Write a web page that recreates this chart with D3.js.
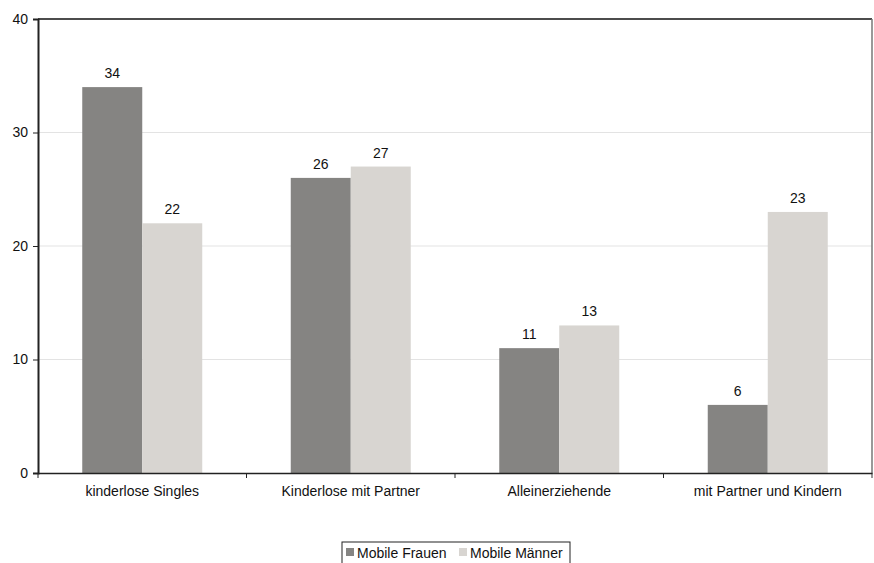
<!DOCTYPE html>
<html>
<head>
<meta charset="utf-8">
<script src="https://cdn.jsdelivr.net/npm/d3@7"></script>
<style>
  body { margin: 0; background: #fff; overflow: hidden; }
  svg { display: block; }
  svg text { font-family: "Liberation Sans", Arial, sans-serif; font-size: 14px; fill: #111; }
</style>
</head>
<body>
<svg id="chart" width="874" height="563"></svg>
<script>
// Data
const categories = ["kinderlose Singles", "Kinderlose mit Partner", "Alleinerziehende", "mit Partner und Kindern"];
const seriesNames = ["Mobile Frauen", "Mobile Männer"];
const frauen = [34, 26, 11, 6];
const maenner = [22, 27, 13, 23];
const yTicks = [0, 10, 20, 30, 40];
const colors = ["#858482", "#d8d5d1"];

const svg = d3.select("#chart");
const margin = {top: 19, left: 38};
const innerWidth = 872 - margin.left;
const innerHeight = 473 - margin.top;

const g = svg.append("g").attr("transform", `translate(${margin.left},${margin.top})`);

const x = d3.scaleBand().domain(categories).range([0, innerWidth]);
const y = d3.scaleLinear().domain([0, 40]).range([innerHeight, 0]);

// gridlines
g.selectAll(".grid")
  .data(yTicks.filter(d => d > 0 && d < 40))
  .enter().append("line")
  .attr("x1", 0).attr("x2", innerWidth)
  .attr("y1", d => y(d)).attr("y2", d => y(d))
  .attr("stroke", "#e3e3e3").attr("stroke-width", 1);

// top and right border of plot area
g.append("line").attr("x1", 0).attr("x2", innerWidth).attr("y1", y(40)).attr("y2", y(40))
  .attr("stroke", "#111").attr("stroke-width", 1.5);
g.append("line").attr("x1", innerWidth).attr("x2", innerWidth).attr("y1", y(40)).attr("y2", innerHeight + 5)
  .attr("stroke", "#777").attr("stroke-width", 1.5);

// bars
const barW = 60;
const series = [frauen, maenner];
series.forEach((vals, s) => {
  g.selectAll(".bar" + s)
    .data(categories)
    .enter().append("rect")
    .attr("x", d => x(d) + x.bandwidth() / 2 - barW + s * barW)
    .attr("y", (d, i) => y(vals[i]))
    .attr("width", barW)
    .attr("height", (d, i) => innerHeight - y(vals[i]))
    .attr("fill", colors[s]);

  g.selectAll(".lbl" + s)
    .data(categories)
    .enter().append("text")
    .attr("x", d => x(d) + x.bandwidth() / 2 - barW / 2 + s * barW)
    .attr("y", (d, i) => y(vals[i]) - 9)
    .attr("text-anchor", "middle")
    .text((d, i) => vals[i]);
});

// y axis
const yAxis = g.append("g")
  .call(d3.axisLeft(y).tickValues(yTicks).tickSize(5).tickPadding(5));
yAxis.select(".domain").attr("stroke", "#222").attr("stroke-width", 2);
yAxis.selectAll(".tick line").attr("stroke", "#222");
yAxis.selectAll("text").style("font-size", "14px").attr("fill", "#111");

// x axis
const xAxis = g.append("g")
  .attr("transform", `translate(0,${innerHeight})`)
  .call(d3.axisBottom(x).tickSize(0).tickPadding(13));
xAxis.select(".domain").attr("stroke", "#222").attr("stroke-width", 1.5);
xAxis.selectAll("text").style("font-size", "14px").attr("fill", "#111");

// category separator ticks
g.selectAll(".sep")
  .data(categories)
  .enter().append("line")
  .attr("x1", d => x(d)).attr("x2", d => x(d))
  .attr("y1", innerHeight).attr("y2", innerHeight + 5)
  .attr("stroke", "#222").attr("stroke-width", 1);

// legend (box runs past the bottom edge, as in the original)
const legend = svg.append("g").attr("transform", "translate(342,542)");
legend.append("rect").attr("x", 0).attr("y", 0).attr("width", 228).attr("height", 26)
  .attr("fill", "#fff").attr("stroke", "#222").attr("stroke-width", 1);
const items = [{name: seriesNames[0], c: colors[0], x: 4}, {name: seriesNames[1], c: colors[1], x: 117}];
items.forEach(it => {
  legend.append("rect").attr("x", it.x).attr("y", 6).attr("width", 8).attr("height", 8).attr("fill", it.c);
  legend.append("text").attr("x", it.x + 11).attr("y", 15.5).text(it.name);
});
</script>
</body>
</html>
